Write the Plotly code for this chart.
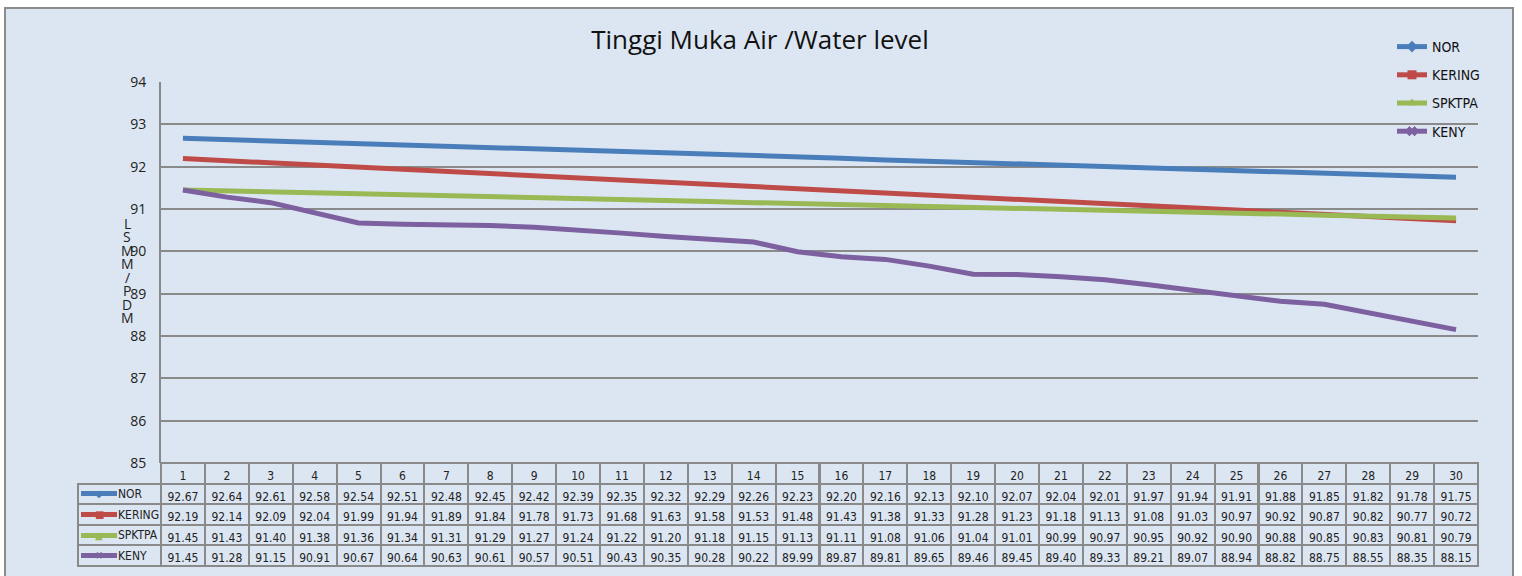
import plotly.graph_objects as go

days = list(range(1, 31))
series_names = ["NOR", "KERING", "SPKTPA", "KENY"]
nor = [92.67, 92.64, 92.61, 92.58, 92.54, 92.51, 92.48, 92.45, 92.42, 92.39,
       92.35, 92.32, 92.29, 92.26, 92.23, 92.20, 92.16, 92.13, 92.10, 92.07,
       92.04, 92.01, 91.97, 91.94, 91.91, 91.88, 91.85, 91.82, 91.78, 91.75]
kering = [92.19, 92.14, 92.09, 92.04, 91.99, 91.94, 91.89, 91.84, 91.78, 91.73,
          91.68, 91.63, 91.58, 91.53, 91.48, 91.43, 91.38, 91.33, 91.28, 91.23,
          91.18, 91.13, 91.08, 91.03, 90.97, 90.92, 90.87, 90.82, 90.77, 90.72]
spktpa = [91.45, 91.43, 91.40, 91.38, 91.36, 91.34, 91.31, 91.29, 91.27, 91.24,
          91.22, 91.20, 91.18, 91.15, 91.13, 91.11, 91.08, 91.06, 91.04, 91.01,
          90.99, 90.97, 90.95, 90.92, 90.90, 90.88, 90.85, 90.83, 90.81, 90.79]
keny = [91.45, 91.28, 91.15, 90.91, 90.67, 90.64, 90.63, 90.61, 90.57, 90.51,
        90.43, 90.35, 90.28, 90.22, 89.99, 89.87, 89.81, 89.65, 89.46, 89.45,
        89.40, 89.33, 89.21, 89.07, 88.94, 88.82, 88.75, 88.55, 88.35, 88.15]
y_ticks = [85, 86, 87, 88, 89, 90, 91, 92, 93, 94]
y_title_letters = ["L", "S", "M", "M", "/", "P", "D", "M"]

all_series = [nor, kering, spktpa, keny]
colors = ["#4a7ebb", "#be4b48", "#98b954", "#7d60a0"]
symbols = ["diamond", "square", "triangle-up", "x"]
glyphs = ["◆", "■", "▲", "✖"]

W, H = 1522, 576
BG = "#dce6f2"
GRID = "#8a8a8a"
CLEAR = "rgba(0,0,0,0)"
NARROW = "Liberation Sans Narrow, DejaVu Sans Condensed, sans-serif"
ROW_H = 20.6
TABLE_TOP = 463

fig = go.Figure()

for name, vals, c in zip(series_names, all_series, colors):
    fig.add_trace(go.Scatter(x=days, y=vals, mode="lines", name=name,
                             line=dict(color=c, width=5), showlegend=False))
# legend entries
for name, c, s in zip(series_names, colors, symbols):
    fig.add_trace(go.Scatter(x=[None], y=[None], mode="lines+markers", name=name,
                             line=dict(color=c, width=5),
                             marker=dict(color=c, symbol=s, size=9),
                             legendgroup=name, showlegend=True))

# data table (label column filled by annotations so they can carry colour keys)
columns = [[""] * 4] + [[f"{s[i]:.2f}" for s in all_series] for i in range(30)]
header_vals = [""] + [str(d) for d in days]

fig.add_trace(go.Table(
    domain=dict(x=[78 / W, 1478 / W], y=[0, 1 - TABLE_TOP / H]),
    columnwidth=[83] + [43.9] * 30,
    header=dict(values=header_vals, height=ROW_H,
                fill=dict(color=[CLEAR] + [BG] * 30),
                line=dict(color=[CLEAR] + [GRID] * 30, width=2),
                align="center",
                font=dict(family=NARROW, size=12, color="#222")),
    cells=dict(values=columns, height=ROW_H,
               fill=dict(color=BG),
               line=dict(color=GRID, width=2),
               align="center",
               font=dict(family=NARROW, size=12, color="#222")),
))

annotations = []
for i, (n, c, g) in enumerate(zip(series_names, colors, glyphs)):
    yrow = 1 - (TABLE_TOP + ROW_H * (i + 1.5)) / H
    # colour key: solid bar + marker glyph
    annotations.append(dict(
        text=" ", xref="paper", yref="paper", x=81 / W, y=yrow,
        xanchor="left", yanchor="middle", showarrow=False,
        width=36, height=5, bgcolor=c, borderpad=0, borderwidth=0,
        font=dict(size=2, color=c)))
    annotations.append(dict(
        text=g, xref="paper", yref="paper", x=99 / W, y=yrow,
        xanchor="center", yanchor="middle", showarrow=False,
        font=dict(family="DejaVu Sans, sans-serif", size=10, color=c)))
    annotations.append(dict(
        text=n, xref="paper", yref="paper", x=116 / W, y=yrow,
        xanchor="left", yanchor="middle", showarrow=False,
        font=dict(family=NARROW, size=12, color="#222")))
for i, ch in enumerate(y_title_letters):
    annotations.append(dict(
        text=ch, xref="paper", yref="paper", x=127 / W,
        y=1 - (223 + 13.5 * i) / H, xanchor="center", yanchor="middle",
        showarrow=False, font=dict(family="Open Sans, sans-serif", size=14, color="#222")))

fig.update_layout(
    width=W, height=H,
    margin=dict(l=0, r=0, t=0, b=0, autoexpand=False),
    paper_bgcolor="white",
    plot_bgcolor=CLEAR,
    font=dict(family="Open Sans, sans-serif", color="#222"),
    title=dict(text="Tinggi Muka Air /Water level", x=760 / W, xanchor="center",
               y=1 - 40 / H, yanchor="middle", yref="container",
               font=dict(size=26, color="#111")),
    showlegend=True,
    legend=dict(x=1392 / W, y=1 - 31 / H, xanchor="left", yanchor="top",
                bgcolor=CLEAR, font=dict(family=NARROW, size=14, color="#111"),
                tracegroupgap=7, itemwidth=30),
    xaxis=dict(domain=[161 / W, 1478 / W], range=[0.5, 30.5], automargin=False,
               showticklabels=False, showgrid=False, zeroline=False,
               showline=False, ticks=""),
    yaxis=dict(domain=[1 - TABLE_TOP / H, 1 - 82 / H], range=[85, 94], automargin=False,
               tickvals=y_ticks, showgrid=True, gridcolor=GRID, gridwidth=2,
               showline=True, linecolor=GRID, linewidth=2, zeroline=False,
               ticks="", ticklabelstandoff=10,
               tickfont=dict(size=14, color="#222")),
    shapes=[dict(type="rect", xref="paper", yref="paper",
                 x0=5 / W, x1=1513 / W, y0=-0.05, y1=1 - 8 / H,
                 fillcolor=BG, line=dict(color="#8c8c8c", width=2), layer="below")],
    annotations=annotations,
)

fig.write_html("out.html", config={"displayModeBar": False},
               post_script="document.body.style.margin='0';")
